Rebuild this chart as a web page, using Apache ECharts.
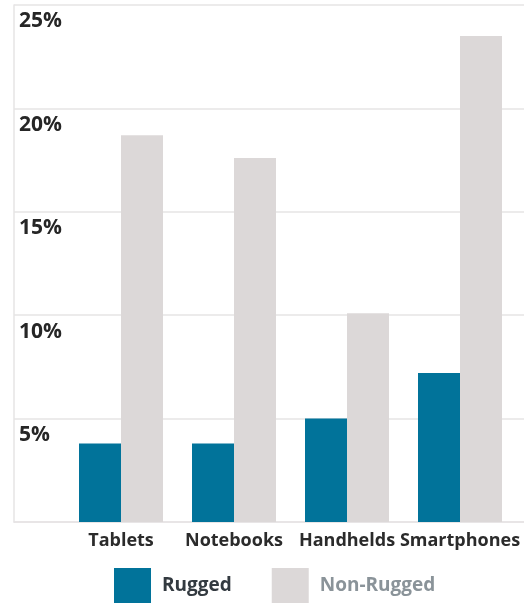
<!DOCTYPE html>
<html>
<head>
<meta charset="utf-8">
<script src="https://cdn.jsdelivr.net/npm/echarts@6/dist/echarts.min.js"></script>
<style>
  html, body { margin: 0; padding: 0; background: #fff; }
  #chart { width: 524px; height: 604px; }
</style>
</head>
<body>
<div id="chart"></div>
<script>
const categories = ['Tablets', 'Notebooks', 'Handhelds', 'Smartphones'];
const rugged = [3.8, 3.8, 5.0, 7.2];
const nonRugged = [18.7, 17.6, 10.1, 23.5];
const yTicks = ['', '5%', '10%', '15%', '20%', '25%'];

const font = '"Open Sans", sans-serif';
const gridColor = '#e6e4e5';

const chart = echarts.init(document.getElementById('chart'));
const option = {
  animation: false,
  grid: [
    {left: 14, right: 0, top: 5, bottom: 82, containLabel: false},
    {left: 64.5, width: 452, top: 5, bottom: 82, containLabel: false},
  ],
  legend: {
    left: 114,
    top: 568,
    padding: 0,
    itemWidth: 37,
    itemHeight: 35,
    itemGap: 40,
    icon: 'rect',
    data: [
      {name: 'Rugged', textStyle: {color: '#333a40'}},
      {name: 'Non-Rugged', textStyle: {color: '#8a9399'}},
    ],
    textStyle: {
      fontFamily: font,
      fontSize: 19,
      fontWeight: 'bold',
      padding: [5, 0, 0, 6],
    },
  },
  xAxis: [
    {
      gridIndex: 0,
      type: 'value',
      min: 0,
      max: 1,
      axisLine: {show: true, onZero: true, lineStyle: {color: gridColor, width: 1.5}},
      axisTick: {show: false},
      axisLabel: {show: false},
      splitLine: {show: false},
    },
    {
      gridIndex: 1,
      type: 'category',
      data: categories,
      axisLine: {show: false},
      axisTick: {show: false},
      axisLabel: {
        interval: 0,
        margin: 10,
        color: '#2b2b2b',
        fontFamily: font,
        fontSize: 18,
        fontWeight: 'bold',
      },
    },
  ],
  yAxis: [
    {
      gridIndex: 0,
      type: 'value',
      min: 0,
      max: 25,
      interval: 5,
      axisLine: {show: true, lineStyle: {color: gridColor, width: 1.5}},
      axisTick: {show: false},
      splitLine: {lineStyle: {color: gridColor, width: 1.5}},
      axisLabel: {
        inside: true,
        margin: 5,
        align: 'left',
        verticalAlign: 'top',
        padding: [6, 0, 0, 0],
        color: '#262626',
        fontFamily: font,
        fontSize: 21,
        fontWeight: 'bold',
        formatter: (v) => yTicks[Math.round(v / 5)],
      },
    },
    {
      gridIndex: 1,
      type: 'value',
      min: 0,
      max: 25,
      show: false,
    },
  ],
  series: [
    {
      name: 'Rugged',
      type: 'bar',
      xAxisIndex: 1,
      yAxisIndex: 1,
      barWidth: 42,
      barGap: '0%',
      itemStyle: {color: '#01739a'},
      data: rugged,
    },
    {
      name: 'Non-Rugged',
      type: 'bar',
      xAxisIndex: 1,
      yAxisIndex: 1,
      barWidth: 42,
      barGap: '0%',
      itemStyle: {color: '#dcd8d8'},
      data: nonRugged,
    },
  ],
};
chart.setOption(option);
</script>
</body>
</html>
